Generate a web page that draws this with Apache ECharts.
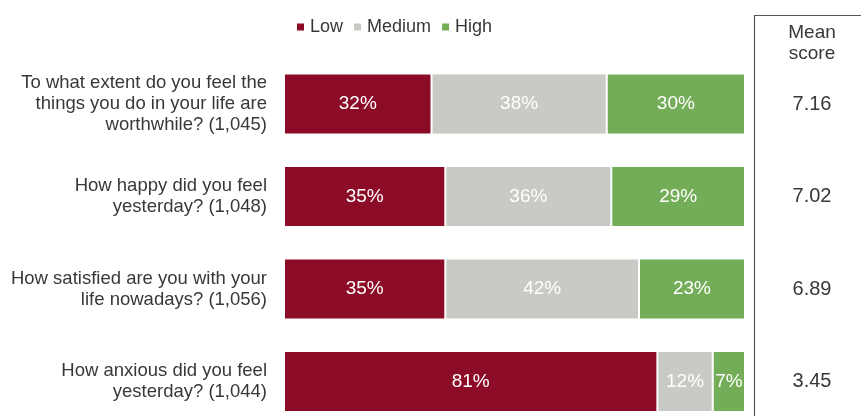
<!DOCTYPE html>
<html>
<head>
<meta charset="utf-8">
<script src="https://cdn.jsdelivr.net/npm/echarts@6/dist/echarts.min.js"></script>
<style>
  html, body { margin: 0; padding: 0; background: #fff; }
  #chart { width: 861px; height: 416px; }
</style>
</head>
<body>
<div id="chart"></div>
<script>
// Wellbeing questions, with the number of respondents in brackets
const questions = [
  'To what extent do you feel the\nthings you do in your life are\nworthwhile? (1,045)',
  'How happy did you feel\nyesterday? (1,048)',
  'How satisfied are you with your\nlife nowadays? (1,056)',
  'How anxious did you feel\nyesterday? (1,044)'
];
// Share of answers in each band (%)
const lowShare = [32, 35, 35, 81];
const mediumShare = [38, 36, 42, 12];
const highShare = [30, 29, 23, 7];
// Mean score on the 0-10 scale
const meanScores = ['7.16', '7.02', '6.89', '3.45'];

const FONT = '"Liberation Sans", Arial, sans-serif';
const TEXT = '#383838';

function band(name, data, color) {
  return {
    name: name,
    type: 'bar',
    stack: 'share',
    data: data,
    barWidth: 61,
    itemStyle: { color: color, borderColor: '#ffffff', borderWidth: 1 },
    label: {
      show: true,
      position: 'inside',
      formatter: '{c}%',
      color: '#ffffff',
      fontFamily: FONT,
      fontSize: 19
    },
    emphasis: { disabled: true }
  };
}

const chart = echarts.init(document.getElementById('chart'), null, { renderer: 'canvas' });
chart.setOption({
  animation: false,
  textStyle: { fontFamily: FONT },
  legend: {
    left: 290,
    top: 13,
    icon: 'rect',
    itemWidth: 9,
    itemHeight: 9,
    itemGap: 9,
    textStyle: { color: TEXT, fontSize: 18, fontFamily: FONT },
    data: ['Low', 'Medium', 'High']
  },
  // category points sit on the grid edges (boundaryGap off), one row every 92.5px
  grid: { left: 284, top: 104, width: 461, height: 277.5, containLabel: false },
  xAxis: { type: 'value', min: 0, max: 100, show: false },
  yAxis: [
    {
      type: 'category',
      data: questions,
      inverse: true,
      boundaryGap: false,
      axisLine: { show: false },
      axisTick: { show: false },
      axisLabel: {
        margin: 17,
        color: TEXT,
        fontSize: 18.5,
        lineHeight: 21,
        fontFamily: FONT,
        align: 'right'
      }
    },
    {
      type: 'category',
      data: meanScores,
      inverse: true,
      boundaryGap: false,
      position: 'right',
      axisLine: { show: false },
      axisTick: { show: false },
      axisLabel: {
        margin: 67,
        align: 'center',
        color: TEXT,
        fontSize: 20,
        fontFamily: FONT,
        padding: [4, 0, 0, 0]
      }
    }
  ],
  series: [
    band('Low', lowShare, '#8c0c28'),
    band('Medium', mediumShare, '#c9c9c5'),
    band('High', highShare, '#73ad58')
  ],
  graphic: [
    {
      type: 'polyline',
      shape: { points: [[754.5, 430], [754.5, 15.5], [861, 15.5]] },
      style: { stroke: '#555555', lineWidth: 1.2, fill: null },
      silent: true
    },
    {
      type: 'text',
      x: 812,
      y: 22,
      style: {
        text: 'Mean\nscore',
        fill: TEXT,
        font: '19px ' + FONT,
        lineHeight: 21,
        align: 'center',
        verticalAlign: 'top'
      },
      silent: true
    }
  ]
});
</script>
</body>
</html>
